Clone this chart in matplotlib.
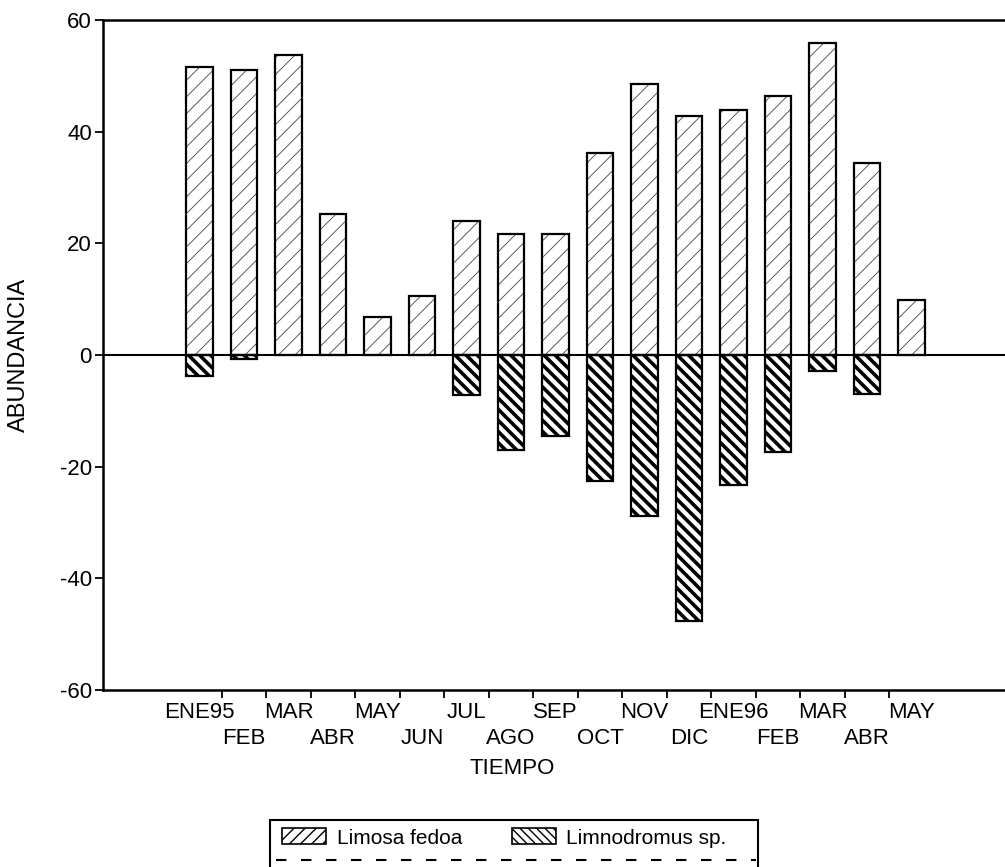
#!/usr/bin/env python3
"""
Abundancia mensual de Limosa fedoa y Limnodromus sp. (ENE95 - MAY96)
Barras con trama, estilo de figura impresa en blanco y negro
"""

import matplotlib
matplotlib.use('Agg')
import matplotlib.pyplot as plt
import matplotlib.transforms as mtransforms
from matplotlib.patches import Patch, Rectangle
from matplotlib.lines import Line2D

plt.rcParams['font.family'] = ['Liberation Sans', 'DejaVu Sans']

# Datos
meses = ['ENE95', 'FEB', 'MAR', 'ABR', 'MAY', 'JUN', 'JUL', 'AGO', 'SEP',
         'OCT', 'NOV', 'DIC', 'ENE96', 'FEB', 'MAR', 'ABR', 'MAY']
limosa = [51.6, 51.0, 53.7, 25.3, 6.8, 10.6, 24.0, 21.6, 21.7,
          36.2, 48.6, 42.8, 43.9, 46.4, 55.8, 34.4, 9.9]
limnodromus = [-3.8, -0.7, 0, 0, 0, 0, -7.2, -17.0, -14.5,
               -22.6, -28.9, -47.7, -23.3, -17.4, -2.9, -7.0, 0]
yticks = [-60, -40, -20, 0, 20, 40, 60]

W, H = 1005, 867
FS = 16
THIN, THICK = 0.6, 2.6


def set_hatch_lw(patches, lw):
    for p in patches:
        if hasattr(p, 'set_hatch_linewidth'):
            p.set_hatch_linewidth(lw)


fig = plt.figure(figsize=(W / 100, H / 100), dpi=100)
fig.patch.set_facecolor('white')

# axes in pixel terms: left 103, right past the edge, top 20, bottom 690
ax = fig.add_axes([103 / W, 1 - 690 / H, (1012 - 103) / W, 670 / H])

x = list(range(len(meses)))
width = 0.6

# Limosa fedoa: thin grey hatch, black outline
with plt.rc_context({'hatch.linewidth': THIN}):
    b1 = ax.bar(x, limosa, width, color='white', edgecolor='#444444',
                hatch='//', linewidth=0, zorder=2)
set_hatch_lw(b1, THIN)
ax.bar(x, limosa, width, fill=False, edgecolor='black', linewidth=1.6, zorder=3)

# Limnodromus sp.: bold black hatch
with plt.rc_context({'hatch.linewidth': THICK}):
    b2 = ax.bar(x, limnodromus, width, color='white', edgecolor='black',
                hatch='\\\\\\', linewidth=0, zorder=2)
set_hatch_lw(b2, THICK)
neg = [(i, v) for i, v in zip(x, limnodromus) if v != 0]
ax.bar([i for i, _ in neg], [v for _, v in neg], width, fill=False,
       edgecolor='black', linewidth=1.6, zorder=3)

ax.axhline(0, color='black', linewidth=1.5, zorder=4)

# category 0 sits at pixel 199.5, 44.5 px per step
ax.set_xlim((103 - 199.5) / 44.5, (1012 - 199.5) / 44.5)
ax.set_ylim(-60, 60)

ax.set_yticks(yticks)
ax.set_yticklabels([str(v) for v in yticks], fontsize=FS)
ax.tick_params(axis='y', direction='out', length=6, width=1.3, pad=2)

# month labels on two staggered rows
ax.set_xticks(x[::2])
ax.set_xticklabels(meses[::2], fontsize=FS)
ax.tick_params(axis='x', which='major', length=0, pad=9)
trans = mtransforms.blended_transform_factory(ax.transData, ax.transAxes)
for i in x[1::2]:
    ax.text(i, -(738 - 690) / 670, meses[i], transform=trans, fontsize=FS,
            ha='center', va='center')
ax.set_xticks([i + 0.5 for i in range(len(meses) - 1)], minor=True)
ax.tick_params(axis='x', which='minor', direction='out', length=6, width=1.3)

for side in ['left', 'bottom', 'top']:
    ax.spines[side].set_linewidth(1.8)
ax.spines['right'].set_visible(False)

ax.set_xlabel('TIEMPO', fontsize=FS)
ax.xaxis.set_label_coords((512 - 103) / 909, -(758 - 690) / 670)
ax.set_ylabel('ABUNDANCIA', fontsize=17)
ax.yaxis.set_label_coords(-(103 - 30) / 909, 0.5)

# legend box (runs off the bottom of the page like the scan)
fig.patches.append(Rectangle((270 / W, -0.05), (758 - 270) / W,
                             1 - 820 / H + 0.05, transform=fig.transFigure,
                             fill=False, edgecolor='black', linewidth=1.5))
fig.lines.append(Line2D([276 / W, 756 / W], [1 - 860 / H] * 2,
                        transform=fig.transFigure, color='black',
                        linewidth=1.5, dashes=(5, 7)))

h1 = Patch(facecolor='white', edgecolor='black', hatch='///', linewidth=1.2)
h2 = Patch(facecolor='white', edgecolor='black', hatch='\\\\\\\\', linewidth=1.2)
set_hatch_lw([h1], THIN)
set_hatch_lw([h2], THICK)
fig.legend([h1, h2], ['Limosa fedoa', 'Limnodromus sp.'],
           loc='upper left', bbox_to_anchor=(272 / W, 1 - 818 / H),
           ncol=2, frameon=False, fontsize=15, borderpad=0,
           handlelength=2.1, handleheight=0.8, handletextpad=0.5,
           columnspacing=2.4)

plt.savefig('out.png', dpi=100, facecolor='white')
plt.close(fig)
